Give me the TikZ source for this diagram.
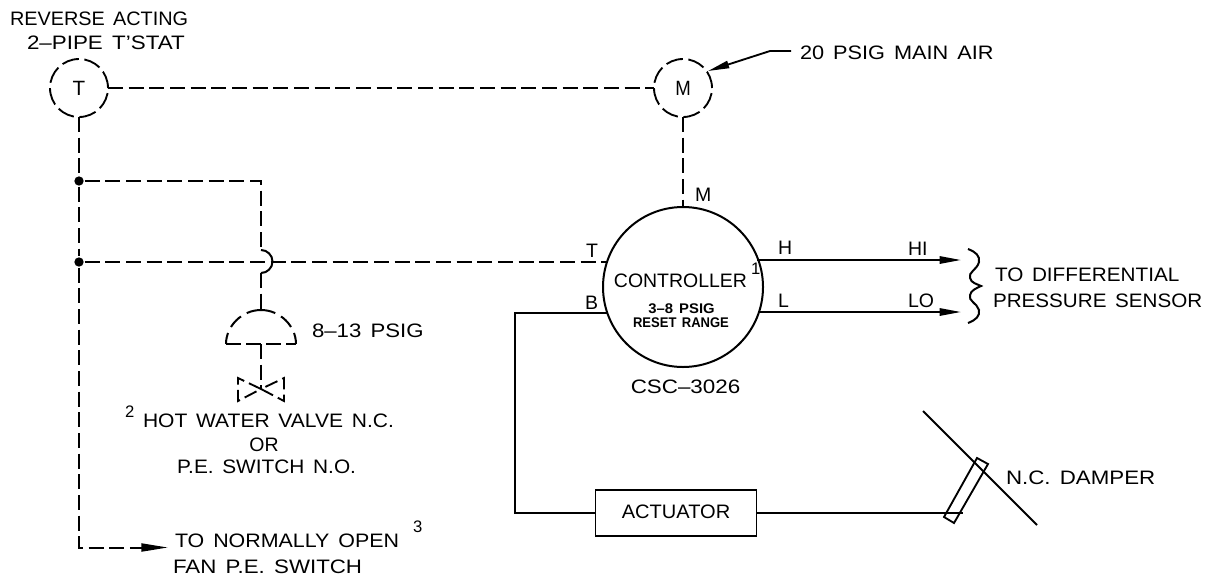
\documentclass[tikz,border=0pt]{standalone}
\usepackage{graphicx}
\usepackage{fontspec}
\setmainfont{Liberation Sans}[WordSpace=1.5]
\usetikzlibrary{arrows.meta}
\newcommand{\sx}[2]{\scalebox{#1}[1]{#2}}
\tikzset{
  dia/.style={x=0.75pt,y=-0.75pt,line width=1.5pt},
  dashline/.style={line width=1.5pt,dash pattern=on 11.25pt off 4.25pt},
  solidline/.style={line width=1.4pt},
  ringnode/.style={circle,draw,line width=1.4pt,minimum size=43.5pt,inner sep=0pt,outer sep=0pt,dash pattern=on 13pt off 4.1pt,font=\fontsize{15.5pt}{16pt}\selectfont},
  headtip/.style={-{Triangle[length=16pt,width=5.5pt]}},
  longtip/.style={-{Triangle[length=20pt,width=6pt]}},
  lab/.style={anchor=base west,inner sep=0pt,outer sep=0pt,font=\fontsize{14.6pt}{16pt}\selectfont},
  smalllab/.style={anchor=base,inner sep=0pt,outer sep=0pt,font=\fontsize{10.5pt}{12pt}\selectfont\bfseries},
  numlab/.style={anchor=base west,inner sep=0pt,outer sep=0pt,font=\fontsize{12.5pt}{14pt}\selectfont},
  centerlab/.style={anchor=base,inner sep=0pt,outer sep=0pt,font=\fontsize{14.6pt}{16pt}\selectfont},
  junction/.style={circle,fill=black,inner sep=0pt,minimum size=7pt},
}
\begin{document}
\begin{tikzpicture}[dia]
\useasboundingbox (0,0) rectangle (1212,575);
% rings
\node[ringnode] (T) at (79,88) {T};
\node[ringnode] (M) at (683,88) {\sx{0.9}{M}};
\node[circle,draw,line width=1.5pt,minimum size=120pt,inner sep=0pt,outer sep=0pt] (C) at (683,287) {};
% junctions and free points
\node[junction] (J1) at (79,181) {};
\node[junction] (J2) at (79,262) {};
\coordinate (Corner) at (79,547.5);
\coordinate (FanTip) at (168,547.5);
\coordinate (BendTop) at (261,181);
\coordinate (HopA) at (261,250);
\coordinate (HopB) at (261,273);
\coordinate (DomeTop) at (261,310);
\coordinate (DomeBase) at (261,344);
\coordinate (ValveC) at (261,389);
\coordinate (CT) at (607,262);
\coordinate (CB) at (607,313);
\coordinate (CH) at (757,260);
\coordinate (CL) at (759,312);
\coordinate (HTip) at (961,260);
\coordinate (LTip) at (961,312);
\coordinate (BDown) at (515,313);
\coordinate (BBot) at (515,513);
\coordinate (DampEnd) at (963,513);
\coordinate (AirTip) at (708,71);
\coordinate (AirBend) at (770,51);
\coordinate (AirEnd) at (791,51);
\node[draw,line width=1.4pt,minimum width=120.75pt,minimum height=34.5pt,inner sep=0pt,outer sep=0pt] (A) at (676,513) {};
% dashed pneumatic lines
\draw[dashline] (T.east) -- (M.west);
\draw[dashline] (M.south) -- (C.north);
\draw[dashline] (T.south) -- (J1);
\draw[dashline] (J1) -- (J2);
\draw[dashline,longtip] (J2) -- (Corner) -- (FanTip);
\draw[dashline] (J1) -- (BendTop) -- (HopA);
\draw[dashline] (J2) -- (CT);
\draw[line width=1.5pt] (HopA) .. controls (267.3,250) and (272.5,255.2) .. (272.5,261.5) .. controls (272.5,267.8) and (267.3,273) .. (HopB);
\draw[dashline] (HopB) -- (DomeTop);
\draw[line width=1.5pt,dash pattern=on 11pt off 5pt] (DomeTop) .. controls (242,310) and (226,326) .. (226,344);
\draw[line width=1.5pt,dash pattern=on 11pt off 5pt] (DomeTop) .. controls (280,310) and (296,326) .. (296,344);
\draw[line width=1.5pt,dash pattern=on 11pt off 4pt] (226,344) -- (296,344);
\draw[dashline] (DomeBase) -- (ValveC);
% valve
\draw[line width=1.4pt,dash pattern=on 10pt off 4pt] (ValveC) -- (238,378) -- (238,401) -- (ValveC) -- (284,401) -- (284,378) -- (ValveC);
% solid lines
\draw[solidline] (CB) -- (BDown) -- (BBot) -- (A.west);
\draw[solidline] (A.east) -- (DampEnd);
\draw[solidline,headtip] (CH) -- (HTip);
\draw[solidline,headtip] (CL) -- (LTip);
\draw[solidline,headtip] (AirEnd) -- (AirBend) -- (AirTip);
% damper
\draw[solidline] (923,411) -- (1037,525);
\draw[solidline] (977,458) -- (988,464) -- (954,523) -- (944,517) -- cycle;
% brace
\draw[line width=1.5pt] (968,249) .. controls (976,252) and (980,256) .. (979,262) .. controls (977,270) and (968,272) .. (970,278) .. controls (971,283) and (977,284) .. (981,286) .. controls (977,288) and (971,290) .. (970,295) .. controls (968,301) and (977,303) .. (979,310) .. controls (980,316) and (976,320) .. (968,323);
% text
\node[lab] (t1) at (10,25) {\sx{1.02}{REVERSE ACTING}};
\node[lab] (t2) at (27,49) {\sx{1.15}{2–PIPE T'STAT}};
\node[lab] (t3) at (800,59) {\sx{1.115}{20 PSIG MAIN AIR}};
\node[lab] (t4) at (695,201) {M};
\node[lab] (t5) at (586,257) {T};
\node[lab] (t6) at (585,309) {B};
\node[lab] (t7) at (778,254) {H};
\node[lab] (t8) at (778,307) {L};
\node[centerlab] (t9) at (680.5,287) {CONTROLLER};
\node[numlab] (n1) at (751,274) {1};
\node[smalllab] (t10) at (681.5,313) {\sx{1.06}{3–8 PSIG}};
\node[smalllab] (t11) at (681,327) {\sx{0.93}{RESET RANGE}};
\node[centerlab] (t12) at (685.5,393) {\sx{1.15}{CSC–3026}};
\node[lab] (t13) at (312,337) {\sx{1.14}{8–13 PSIG}};
\node[numlab] (n2) at (125,417) {2};
\node[lab] (t14) at (143,427) {\sx{1.08}{HOT WATER VALVE N.C.}};
\node[centerlab] (t15) at (264,451) {OR};
\node[lab] (t16) at (177,473) {\sx{1.07}{P.E. SWITCH N.O.}};
\node[lab] (t17) at (1006,484) {\sx{1.145}{N.C. DAMPER}};
\node[lab] (t18) at (908,255) {HI};
\node[lab] (t19) at (908,307) {LO};
\node[lab] (t20) at (995,281) {\sx{1.064}{TO DIFFERENTIAL}};
\node[lab] (t21) at (993,307) {\sx{1.06}{PRESSURE SENSOR}};
\node[centerlab] (t22) at (676,518) {\sx{1.03}{ACTUATOR}};
\node[lab] (t23) at (175,547) {\sx{1.10}{TO NORMALLY OPEN}};
\node[numlab] (n3) at (413,532) {3};
\node[lab] (t24) at (173,573) {\sx{1.145}{FAN P.E. SWITCH}};
\end{tikzpicture}
\end{document}
